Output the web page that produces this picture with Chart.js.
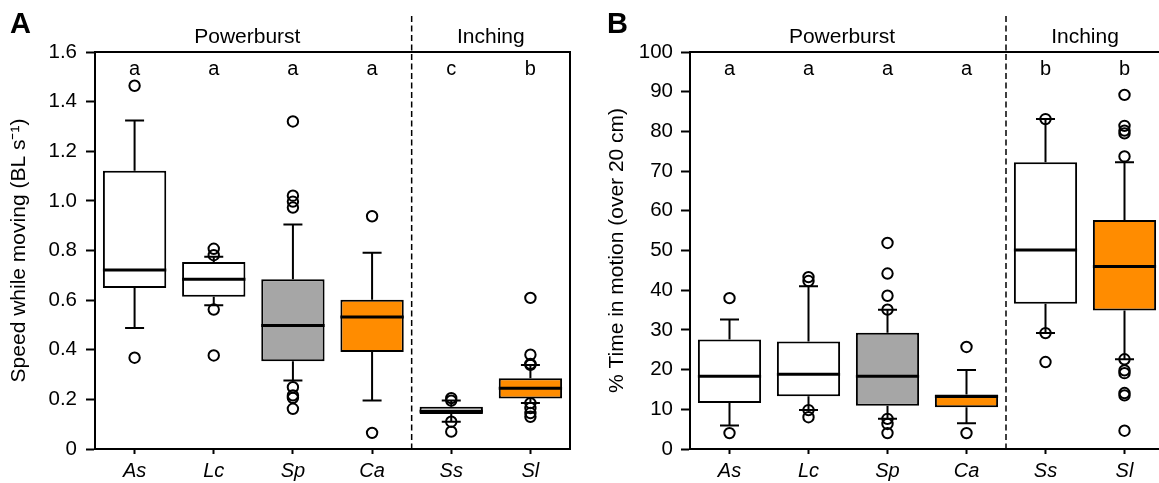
<!DOCTYPE html>
<html>
<head>
<meta charset="utf-8">
<script src="https://cdn.jsdelivr.net/npm/chart.js@4.4.1/dist/chart.umd.min.js"></script>
<style>
  html, body { margin: 0; padding: 0; background: #fff; overflow: hidden; }
  body { width: 1159px; height: 483px; position: relative; }
  .panel { position: absolute; top: 0; height: 483px; }
  #panelA { left: 0; width: 580px; }
  #panelB { left: 580px; width: 600px; }
</style>
</head>
<body>
<div class="panel" id="panelA"><canvas id="chartA" width="580" height="483"></canvas></div>
<div class="panel" id="panelB"><canvas id="chartB" width="600" height="483"></canvas></div>
<script>
// categories and groups (shared by both panels)
const categories = ['As', 'Lc', 'Sp', 'Ca', 'Ss', 'Sl'];
const groupNames = ['Powerburst', 'Inching'];
const groupSpans = [[0, 3], [4, 5]];
const boxFills = ['#ffffff', '#ffffff', '#a6a6a6', '#ff8c00', '#ffffff', '#ff8c00'];

// panel A - speed while moving (BL s-1)
const speedQ1 = [0.649, 0.614, 0.354, 0.391, 0.141, 0.204];
const speedQ3 = [1.121, 0.754, 0.684, 0.602, 0.170, 0.285];
const speedMedian = [0.721, 0.684, 0.498, 0.532, 0.152, 0.245];
const speedLow = [0.488, 0.579, 0.276, 0.195, 0.110, 0.185];
const speedHigh = [1.324, 0.775, 0.905, 0.791, 0.195, 0.339];
const speedOutliers = [
    [1.464, 0.368],
    [0.807, 0.781, 0.562, 0.377],
    [1.320, 1.021, 0.997, 0.973, 0.249, 0.216, 0.206, 0.162],
    [0.938, 0.065],
    [0.205, 0.195, 0.110, 0.070],
    [0.609, 0.380, 0.343, 0.339, 0.185, 0.165, 0.145, 0.130]
];
const speedLetters = ['a', 'a', 'a', 'a', 'c', 'b'];
const speedTicks = [0, 0.2, 0.4, 0.6, 0.8, 1.0, 1.2, 1.4, 1.6];

// panel B - % time in motion (over 20 cm)
const timeQ1 = [11.6, 13.3, 10.9, 10.5, 36.6, 34.9];
const timeQ3 = [27.6, 27.1, 29.3, 13.7, 72.2, 57.7];
const timeMedian = [18.3, 18.8, 18.3, 13.2, 50.1, 46.0];
const timeLow = [5.9, 9.8, 7.6, 6.5, 29.2, 22.6];
const timeHigh = [32.6, 41.0, 35.1, 19.9, 83.1, 72.2];
const timeOutliers = [
    [38.0, 4.0],
    [43.3, 42.3, 9.8, 8.0],
    [51.9, 44.2, 38.6, 35.1, 7.6, 6.3, 4.0],
    [25.7, 4.0],
    [83.1, 29.2, 21.9],
    [89.2, 81.4, 80.2, 79.5, 73.7, 22.6, 19.8, 19.1, 14.1, 13.5, 4.6]
];
const timeLetters = ['a', 'a', 'a', 'a', 'b', 'b'];
const timeTicks = [0, 10, 20, 30, 40, 50, 60, 70, 80, 90, 100];

const FONT = "'Liberation Sans', Arial, Helvetica, sans-serif";

// whiskers, medians, frame, divider and the text labels
const boxPlotExtras = {
    id: 'boxPlotExtras',
    afterDatasetsDraw(chart, args, opts) {
        const ctx = chart.ctx;
        const y = chart.scales.y;
        const x = chart.scales.x;
        const area = chart.chartArea;
        const boxes = chart.getDatasetMeta(0).data;
        ctx.save();
        ctx.strokeStyle = '#000';
        ctx.lineCap = 'butt';
        boxes.forEach((bar, i) => {
            const cx = bar.x;
            const half = bar.width / 2;
            const yQ1 = y.getPixelForValue(opts.q1[i]);
            const yQ3 = y.getPixelForValue(opts.q3[i]);
            const yLo = y.getPixelForValue(opts.low[i]);
            const yHi = y.getPixelForValue(opts.high[i]);
            ctx.lineWidth = 2;
            ctx.beginPath();
            ctx.moveTo(cx, yQ3); ctx.lineTo(cx, yHi);
            ctx.moveTo(cx - 9.5, yHi); ctx.lineTo(cx + 9.5, yHi);
            ctx.moveTo(cx, yQ1); ctx.lineTo(cx, yLo);
            ctx.moveTo(cx - 9.5, yLo); ctx.lineTo(cx + 9.5, yLo);
            ctx.stroke();
            // median
            ctx.lineWidth = 3;
            ctx.beginPath();
            const yMed = y.getPixelForValue(opts.median[i]);
            ctx.moveTo(cx - half, yMed); ctx.lineTo(cx + half, yMed);
            ctx.stroke();
        });

        // frame top and right
        ctx.lineWidth = 2;
        ctx.beginPath();
        ctx.moveTo(area.left - 1, area.top);
        ctx.lineTo(area.right, area.top);
        ctx.lineTo(area.right, area.bottom);
        ctx.stroke();

        // dashed divider between groups
        const xDiv = (x.getPixelForValue(3) + x.getPixelForValue(4)) / 2;
        ctx.lineWidth = 1.5;
        ctx.setLineDash([6, 3.5]);
        ctx.beginPath();
        ctx.moveTo(xDiv, 16);
        ctx.lineTo(xDiv, area.bottom);
        ctx.stroke();
        ctx.setLineDash([]);

        // significance letters
        ctx.fillStyle = '#000';
        ctx.font = '20px ' + FONT;
        ctx.textAlign = 'center';
        ctx.textBaseline = 'alphabetic';
        opts.letters.forEach((t, i) => {
            ctx.fillText(t, x.getPixelForValue(i), area.top + 23);
        });

        // group names above the frame
        ctx.font = '21px ' + FONT;
        groupNames.forEach((g, k) => {
            const [a, b] = groupSpans[k];
            let gx = (x.getPixelForValue(a) + x.getPixelForValue(b)) / 2;
            if (k === 0) gx -= 6;
            ctx.fillText(g, gx, 43);
        });

        // panel letter
        ctx.font = 'bold 29px ' + FONT;
        ctx.textAlign = 'left';
        ctx.fillText(opts.panel, opts.panelX, 33);
        ctx.restore();
    }
};

function outlierPoints(outliers) {
    const pts = [];
    outliers.forEach((vals, i) => {
        vals.forEach(v => pts.push({ x: categories[i], y: v }));
    });
    return pts;
}

function makeBoxChart(canvasId, cfg) {
    return new Chart(document.getElementById(canvasId), {
        type: 'bar',
        data: {
            labels: categories,
            datasets: [
                {
                    data: cfg.q1.map((v, i) => [v, cfg.q3[i]]),
                    backgroundColor: boxFills,
                    borderColor: '#000',
                    borderWidth: 2,
                    borderSkipped: false,
                    barPercentage: 0.8,
                    categoryPercentage: 1.0,
                    order: 2
                },
                {
                    type: 'line',
                    data: outlierPoints(cfg.outliers),
                    showLine: false,
                    pointStyle: 'circle',
                    pointRadius: 5.2,
                    pointBorderWidth: 2,
                    pointBorderColor: '#000',
                    pointBackgroundColor: 'rgba(255,255,255,0)',
                    order: 1
                }
            ]
        },
        options: {
            responsive: false,
            animation: false,
            events: [],
            layout: { padding: { top: 52, right: cfg.padRight, bottom: 0, left: 0 } },
            plugins: {
                legend: { display: false },
                tooltip: { enabled: false },
                boxPlotExtras: {
                    q1: cfg.q1, q3: cfg.q3, median: cfg.median,
                    low: cfg.low, high: cfg.high,
                    letters: cfg.letters, panel: cfg.panel, panelX: cfg.panelX
                }
            },
            scales: {
                x: {
                    offset: true,
                    grid: { offset: false, drawOnChartArea: false, tickLength: 5, tickWidth: 2, tickColor: '#000' },
                    border: { color: '#000', width: 2 },
                    ticks: { color: '#000', padding: 5, font: { family: FONT, size: 20, style: 'italic' } },
                    afterFit(scale) { scale.height = 34; }
                },
                y: {
                    min: 0,
                    max: cfg.ticks[cfg.ticks.length - 1],
                    afterBuildTicks(scale) { scale.ticks = cfg.ticks.map(v => ({ value: v })); },
                    grid: { drawOnChartArea: false, tickLength: 9, tickWidth: 2, tickColor: '#000' },
                    border: { color: '#000', width: 2 },
                    ticks: {
                        color: '#000',
                        padding: cfg.tickPad,
                        font: { family: FONT, size: 20.5 },
                        callback: cfg.fmt
                    },
                    title: {
                        display: true,
                        text: cfg.title,
                        color: '#000',
                        font: { family: FONT, size: 21 },
                        padding: { top: cfg.titlePad, bottom: 0 }
                    },
                    afterFit(scale) { scale.width = cfg.axisWidth; }
                }
            }
        },
        plugins: [boxPlotExtras]
    });
}

makeBoxChart('chartA', {
    q1: speedQ1, q3: speedQ3, median: speedMedian, low: speedLow, high: speedHigh,
    outliers: speedOutliers, letters: speedLetters, ticks: speedTicks,
    fmt: v => v === 0 ? '0' : v.toFixed(1),
    title: 'Speed while moving (BL s\u207B\u00B9)',
    axisWidth: 95, padRight: 10, tickPad: 9, titlePad: 7,
    panel: 'A', panelX: 10
});

makeBoxChart('chartB', {
    q1: timeQ1, q3: timeQ3, median: timeMedian, low: timeLow, high: timeHigh,
    outliers: timeOutliers, letters: timeLetters, ticks: timeTicks,
    fmt: v => String(v),
    title: '% Time in motion (over 20 cm)',
    axisWidth: 110, padRight: 16, tickPad: 8, titlePad: 25,
    panel: 'B', panelX: 27
});
</script>
</body>
</html>
